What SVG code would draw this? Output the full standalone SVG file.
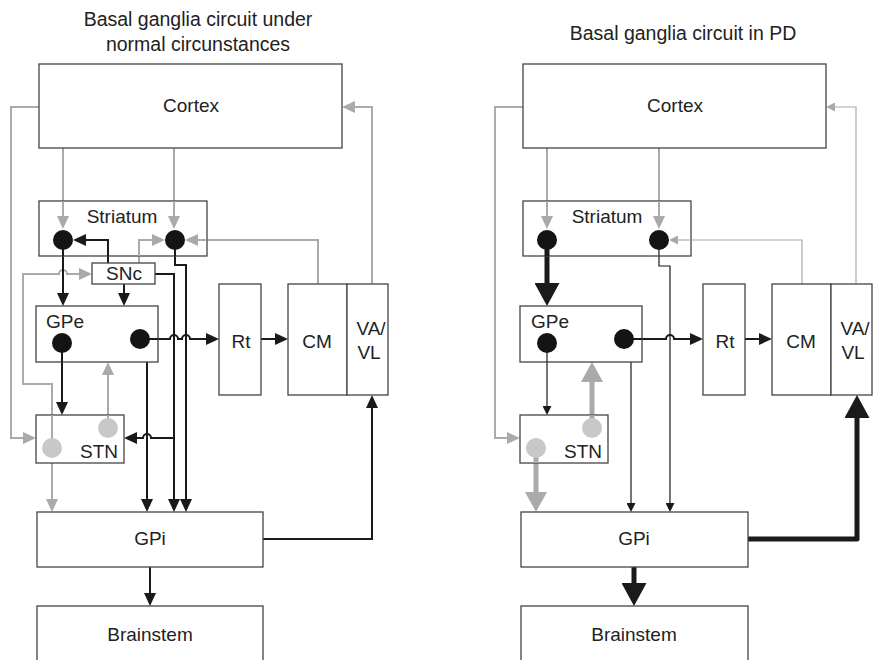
<svg xmlns="http://www.w3.org/2000/svg" width="879" height="660" viewBox="0 0 879 660">
<defs>
<style>
.box{fill:#fff;stroke:#444;stroke-width:1.3}
.t{font-family:"Liberation Sans",Arial,sans-serif;font-size:19px;fill:#222;text-anchor:middle}
.ts{text-anchor:start}
.title{font-family:"Liberation Sans",Arial,sans-serif;font-size:19.5px;fill:#222;text-anchor:middle}
.g{fill:none;stroke:#aaa;stroke-width:2}
.gt{fill:none;stroke:#aaa;stroke-width:1.2}
.gT{fill:none;stroke:#aaa;stroke-width:5}
.b{fill:none;stroke:#1a1a1a;stroke-width:2}
.bt{fill:none;stroke:#1a1a1a;stroke-width:1.2}
.bT{fill:none;stroke:#1a1a1a;stroke-width:5;stroke-linejoin:round}
.cb{fill:#141414}
.cg{fill:#c8c8c8}
</style>
<marker id="ab" markerUnits="userSpaceOnUse" markerWidth="13" markerHeight="12" refX="0" refY="6" orient="auto"><path d="M0,0 L13,6 L0,12 z" fill="#1a1a1a"/></marker>
<marker id="ag" markerUnits="userSpaceOnUse" markerWidth="13" markerHeight="12" refX="0" refY="6" orient="auto"><path d="M0,0 L13,6 L0,12 z" fill="#aaa"/></marker>
<marker id="abs" markerUnits="userSpaceOnUse" markerWidth="9" markerHeight="9" refX="0" refY="4.5" orient="auto"><path d="M0,0 L9,4.5 L0,9 z" fill="#1a1a1a"/></marker>
<marker id="ags" markerUnits="userSpaceOnUse" markerWidth="9" markerHeight="9" refX="0" refY="4.5" orient="auto"><path d="M0,0 L9,4.5 L0,9 z" fill="#aaa"/></marker>
<marker id="abL" markerUnits="userSpaceOnUse" markerWidth="23" markerHeight="25" refX="0" refY="12.5" orient="auto"><path d="M0,0 L23,12.5 L0,25 z" fill="#1a1a1a"/></marker>
<marker id="agL" markerUnits="userSpaceOnUse" markerWidth="20" markerHeight="22" refX="0" refY="11" orient="auto"><path d="M0,0 L20,11 L0,22 z" fill="#aaa"/></marker>
</defs>
<rect width="879" height="660" fill="#fff"/>

<text class="title" x="198" y="26">Basal ganglia circuit under</text>
<text class="title" x="198" y="51">normal circunstances</text>
<text class="title" x="683" y="40">Basal ganglia circuit in PD</text>

<!-- LEFT PANEL -->
<g id="connectors-left">
<path class="g" d="M39,107 H11 V438 H23" marker-end="url(#ag)"/>
<path class="g" d="M63,148 V216" marker-end="url(#ag)"/>
<path class="g" d="M174,148 V216" marker-end="url(#ag)"/>
<path class="g" d="M318,284 V240 H198" marker-end="url(#ag)"/>
<path class="g" d="M372,284 V107 H355" marker-end="url(#ag)"/>
<path class="g" d="M139,263 V240 H152" marker-end="url(#ag)"/>
<path class="g" d="M52,448 V384 H23 V274 H59 a4,4 0 0 1 8,0 H79" marker-end="url(#ag)"/>
<path class="g" d="M52,448 V499" marker-end="url(#ag)"/>
<path class="g" d="M108,428 V375" marker-end="url(#ag)"/>
<path class="b" d="M63,240 V293" marker-end="url(#ab)"/>
<path class="b" d="M108,263 V240 H86" marker-end="url(#ab)"/>
<path class="b" d="M124,284 V293" marker-end="url(#ab)"/>
<path class="b" d="M155,274 H174 V499" marker-end="url(#ab)"/>
<path class="b" d="M175,240 V265 H186 V499" marker-end="url(#ab)"/>
<path class="b" d="M140,339 H170 a4,4 0 0 1 8,0 H182 a4,4 0 0 1 8,0 H206" marker-end="url(#ab)"/>
<path class="b" d="M261,339 H275" marker-end="url(#ab)"/>
<path class="b" d="M174,438 H151 a4,4 0 0 0 -8,0 H137" marker-end="url(#ab)"/>
<path class="b" d="M147,362 V499" marker-end="url(#ab)"/>
<path class="b" d="M62,343 V402" marker-end="url(#ab)"/>
<path class="b" d="M263,539 H372 V408" marker-end="url(#ab)"/>
<path class="b" d="M150,567 V593" marker-end="url(#ab)"/>
</g>

<g id="L-cortex"><rect class="box" x="39" y="64" width="303" height="84"/><text class="t" x="191" y="112">Cortex</text></g>
<g id="L-striatum"><rect class="box" x="39" y="201" width="168" height="55"/><text class="t" x="122" y="223">Striatum</text></g>
<g id="L-snc"><rect class="box" x="92" y="263" width="63" height="21"/><text class="t" x="124" y="280">SNc</text></g>
<g id="L-gpe"><rect class="box" x="36" y="306" width="122" height="56"/><text class="t ts" x="46" y="328">GPe</text></g>
<g id="L-stn"><rect class="box" x="36" y="415" width="88" height="48"/><text class="t ts" x="80" y="458">STN</text></g>
<g id="L-rt"><rect class="box" x="219" y="284" width="42" height="111"/><text class="t" x="241" y="348">Rt</text></g>
<g id="L-cm"><rect class="box" x="288" y="284" width="59" height="111"/><text class="t" x="317" y="348">CM</text></g>
<g id="L-vavl"><rect class="box" x="347" y="284" width="41" height="111"/><text class="t" x="371" y="335">VA/</text><text class="t" x="369" y="359">VL</text></g>
<g id="L-gpi"><rect class="box" x="37" y="512" width="226" height="55"/><text class="t" x="150" y="545">GPi</text></g>
<g id="L-brainstem"><rect class="box" x="37" y="606" width="226" height="70"/><text class="t" x="150" y="641">Brainstem</text></g>

<!-- line segments that pass over boxes -->
<g id="connectors-left-over">
<path class="g" d="M52,415 V448"/>
<path class="g" d="M63,201 V216" marker-end="url(#ag)"/>
<path class="g" d="M174,201 V216" marker-end="url(#ag)"/>
<path class="g" d="M207,240 H198" marker-end="url(#ag)"/>
<path class="g" d="M139,256 V240 H152" marker-end="url(#ag)"/>
<path class="b" d="M108,256 V240 H86" marker-end="url(#ab)"/>
<path class="b" d="M63,240 V256"/>
<path class="b" d="M175,240 V256"/>
<path class="b" d="M62,343 V362"/>
<path class="g" d="M108,428 V415"/>
<path class="b" d="M140,339 H158"/>
</g>
<g id="L-circles">
<circle class="cb" cx="63" cy="240" r="10"/>
<circle class="cb" cx="175" cy="240" r="10"/>
<circle class="cb" cx="62" cy="343" r="10"/>
<circle class="cb" cx="140" cy="339" r="10"/>
<circle class="cg" cx="52" cy="448" r="10"/>
<circle class="cg" cx="108" cy="428" r="10"/>
</g>

<!-- RIGHT PANEL -->
<g id="connectors-right">
<path class="g" d="M523,107 H495 V438 H507" marker-end="url(#ag)"/>
<path class="g" d="M547,148 V216" marker-end="url(#ag)"/>
<path class="g" d="M659,148 V216" marker-end="url(#ag)"/>
<path class="gt" d="M802,284 V240 H678" marker-end="url(#ags)"/>
<path class="gt" d="M856,284 V107 H835" marker-end="url(#ags)"/>
<path class="gT" d="M592,428 V382" marker-end="url(#agL)"/>
<path class="gT" d="M536,448 V492" marker-end="url(#agL)"/>
<path class="bT" d="M547,240 V283" marker-end="url(#abL)"/>
<path class="bt" d="M659,240 V266 H670 V503" marker-end="url(#abs)"/>
<path class="b" d="M624,339 H666 a4,4 0 0 1 8,0 H690" marker-end="url(#ab)"/>
<path class="b" d="M745,339 H759" marker-end="url(#ab)"/>
<path class="bt" d="M547,343 V406" marker-end="url(#abs)"/>
<path class="bt" d="M631,362 V503" marker-end="url(#abs)"/>
<path class="bT" d="M748,539 H857 V418" marker-end="url(#abL)"/>
<path class="bT" d="M634,567 V583" marker-end="url(#abL)"/>
</g>

<g id="R-cortex"><rect class="box" x="523" y="64" width="303" height="84"/><text class="t" x="675" y="112">Cortex</text></g>
<g id="R-striatum"><rect class="box" x="523" y="201" width="168" height="55"/><text class="t" x="607" y="223">Striatum</text></g>
<g id="R-gpe"><rect class="box" x="520" y="306" width="122" height="56"/><text class="t ts" x="531" y="328">GPe</text></g>
<g id="R-stn"><rect class="box" x="520" y="415" width="88" height="48"/><text class="t ts" x="564" y="458">STN</text></g>
<g id="R-rt"><rect class="box" x="703" y="284" width="42" height="111"/><text class="t" x="725" y="348">Rt</text></g>
<g id="R-cm"><rect class="box" x="772" y="284" width="59" height="111"/><text class="t" x="801" y="348">CM</text></g>
<g id="R-vavl"><rect class="box" x="831" y="284" width="41" height="111"/><text class="t" x="855" y="335">VA/</text><text class="t" x="853" y="359">VL</text></g>
<g id="R-gpi"><rect class="box" x="521" y="512" width="227" height="55"/><text class="t" x="634" y="545">GPi</text></g>
<g id="R-brainstem"><rect class="box" x="521" y="606" width="227" height="70"/><text class="t" x="634" y="641">Brainstem</text></g>

<g id="connectors-right-over">
<path class="g" d="M547,201 V216" marker-end="url(#ag)"/>
<path class="g" d="M659,201 V216" marker-end="url(#ag)"/>
<path class="gt" d="M691,240 H678" marker-end="url(#ags)"/>
<path class="bT" d="M547,240 V256"/>
<path class="bt" d="M659,240 V256"/>
<path class="bt" d="M547,343 V362"/>
<path class="gT" d="M592,428 V415"/>
<path class="gT" d="M536,448 V463"/>
<path class="b" d="M624,339 H642"/>
</g>
<g id="R-circles">
<circle class="cb" cx="547" cy="240" r="10"/>
<circle class="cb" cx="659" cy="240" r="10"/>
<circle class="cb" cx="547" cy="343" r="10"/>
<circle class="cb" cx="624" cy="339" r="10"/>
<circle class="cg" cx="536" cy="448" r="10"/>
<circle class="cg" cx="592" cy="428" r="10"/>
</g>
</svg>
